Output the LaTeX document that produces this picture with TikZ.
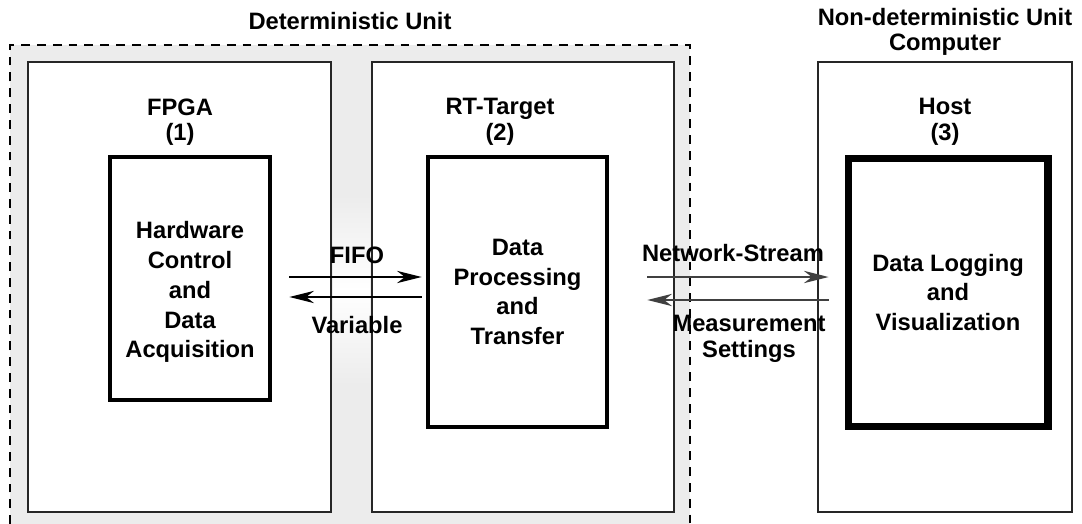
\documentclass[tikz,border=0pt]{standalone}
\usepackage{fontspec}
\setmainfont{Liberation Sans}
\usepackage{tikz}
\usetikzlibrary{positioning, arrows.meta}
\definecolor{unitgray}{HTML}{ECECEC}
\definecolor{streamgray}{HTML}{404040}

\tikzset{
  unitbox/.style={draw=black!85, line width=1.2pt, fill=white, minimum width=#1},
  taskbox/.style={draw=black, line width=2.8pt, fill=white, align=center,
                  font=\fontsize{13.5}{17}\selectfont\bfseries},
  lbl/.style={align=center, font=\fontsize{13.5}{14.5}\selectfont\bfseries, inner sep=0pt},
  flow/.style={-{Stealth[length=14pt, width=7pt, inset=4.5pt]}, line width=0.9pt},
}

\begin{document}
\begin{tikzpicture}[x=0.02cm, y=-0.02cm]
    \useasboundingbox (0,0) rectangle (1082,524);

    % deterministic unit
    \fill[unitgray] (10,45) rectangle (690,524);
    \draw[line width=1.5pt, dash pattern=on 5pt off 4pt] (10,524) -- (10,45) -- (690,45) -- (690,524);
    \node[lbl] (detunit) at (350,21) {Deterministic Unit};

    % the three targets
    \node[unitbox=6.06cm, minimum height=9cm] (fpga) at (179.5,287) {};
    \node[unitbox=6.04cm, minimum height=9cm] (rt) at (523,287) {};
    \node[unitbox=5.08cm, minimum height=9cm] (host) at (945,287) {};

    % fading gaps
    \shade[top color=unitgray, bottom color=unitgray, middle color=white]
      ([xshift=0.7pt]fpga.east |- 0,195) rectangle ([xshift=-0.7pt]rt.west |- 0,385);

    \node[lbl, align=center] (nondet) at (945,32) {Non-deterministic Unit\\Computer};
    \node[lbl] (fpgatitle) at (180,122) {FPGA\\(1)};
    \node[lbl] (rttitle) at (500,122) {RT-Target\\(2)};
    \node[lbl] (hosttitle) at (945,122) {Host\\(3)};

    % tasks
    \node[taskbox, minimum width=3.2cm, minimum height=4.86cm] (hwbox) at (190,278.5) {};
    \node[taskbox, draw=none, fill=none] (hwtext) at (190,292)
      {Hardware\\Control\\and\\Data\\Acquisition};
    \node[taskbox, minimum width=3.58cm, minimum height=5.4cm] (rtbox) at (517.5,292)
      {Data\\Processing\\and\\Transfer};
    \node[taskbox, line width=4pt, minimum width=4cm, minimum height=5.38cm] (hostbox) at (948,292.5)
      {Data Logging\\and\\Visualization};

    % links
    \draw[flow] ([xshift=.34cm, yshift=.3cm]hwbox.east |- rtbox.west) -- ([xshift=-.08cm, yshift=.3cm]rtbox.west);
    \draw[flow] ([xshift=-.08cm, yshift=-.1cm]rtbox.west) -- ([xshift=.34cm, yshift=-.1cm]hwbox.east |- rtbox.west);
    \node[lbl] (fifo) at (357,255) {FIFO};
    \node[lbl] (variable) at (357,325) {Variable};

    \draw[flow, streamgray] ([xshift=.76cm, yshift=.31cm]rtbox.east |- hostbox.west) -- ([xshift=-.32cm, yshift=.31cm]hostbox.west);
    \draw[flow, streamgray] ([xshift=-.32cm, yshift=-.15cm]hostbox.west) -- ([xshift=.76cm, yshift=-.15cm]rtbox.east |- hostbox.west);
    \node[lbl] (netstream) at (733,253) {Network-Stream};
    \node[lbl] (settings) at (749,339) {Measurement\\Settings};
  \end{tikzpicture}
\end{document}
